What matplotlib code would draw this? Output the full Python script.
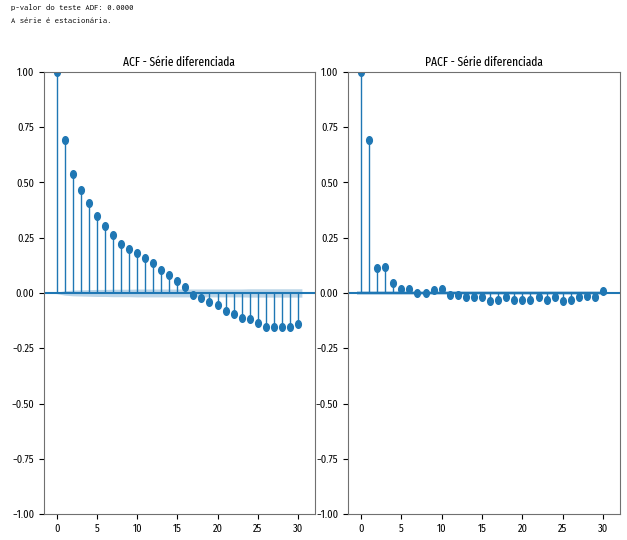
import matplotlib
matplotlib.use("Agg")
import matplotlib.pyplot as plt
from matplotlib.markers import MarkerStyle
from matplotlib.transforms import Affine2D
import numpy as np

# valores
lags = list(range(31))
acf_vals = [1.0, 0.693, 0.538, 0.467, 0.405, 0.350, 0.305, 0.261, 0.223, 0.199,
            0.181, 0.156, 0.135, 0.105, 0.080, 0.053, 0.026, -0.008, -0.022, -0.041,
            -0.056, -0.080, -0.094, -0.112, -0.116, -0.135, -0.153, -0.155, -0.155,
            -0.155, -0.139]
acf_band = [0.0, 0.010, 0.013, 0.014, 0.015, 0.016, 0.016, 0.017, 0.017, 0.017,
            0.018, 0.018, 0.018, 0.018, 0.018, 0.018, 0.018, 0.018, 0.018, 0.018,
            0.018, 0.018, 0.018, 0.018, 0.019, 0.019, 0.019, 0.019, 0.019, 0.019,
            0.019]
pacf_vals = [1.0, 0.690, 0.113, 0.118, 0.045, 0.018, 0.020, -0.002, -0.002, 0.013,
             0.020, -0.008, -0.010, -0.020, -0.020, -0.020, -0.035, -0.032, -0.018,
             -0.032, -0.032, -0.032, -0.020, -0.032, -0.018, -0.036, -0.030, -0.018,
             -0.013, -0.020, 0.008]
pacf_band = 0.010

adf_texto = ["p-valor do teste ADF: 0.0000", "A série é estacionária."]
titulos = ["ACF - Série diferenciada", "PACF - Série diferenciada"]

plt.rcParams['font.family'] = ['Fira Sans Condensed', 'DejaVu Sans']
plt.rcParams['font.size'] = 7.5

fig = plt.figure(figsize=(6.27, 5.4), dpi=100)
ax1 = fig.add_axes([0.070, 0.048, 0.432, 0.819])
ax2 = fig.add_axes([0.555, 0.048, 0.434, 0.819])

fig.text(0.018, 0.992, adf_texto[0], family=['Inconsolata', 'DejaVu Sans Mono'],
         fontsize=6.2, va='top', ha='left')
fig.text(0.018, 0.968, adf_texto[1], family=['Inconsolata', 'DejaVu Sans Mono'],
         fontsize=6.2, va='top', ha='left')

marca = MarkerStyle('o', transform=Affine2D().scale(0.75, 1.0))


def desenha(ax, vals, band, titulo):
    x = np.array(lags, dtype=float)
    ax.vlines(x, 0, vals, color='C0', lw=1)
    ax.plot(x, vals, ls='none', marker=marca, ms=5.5, color='C0')
    ax.axhline(0, color='C0', lw=1.5)
    xb = x.copy()
    xb[0] -= 0.5
    xb[-1] += 0.5
    b = np.asarray(band) * np.ones_like(x)
    ax.fill_between(xb, -b, b, alpha=0.3, color='C0', lw=0)
    ax.set_ylim(-1, 1)
    ax.set_xlim(-1.6, 32.1)
    ax.set_yticks(np.arange(-1, 1.01, 0.25))
    ax.set_xticks(range(0, 31, 5))
    ax.set_title(titulo, fontsize=9, pad=4,
                 family=['Fira Sans Extra Condensed', 'Fira Sans Condensed', 'DejaVu Sans'])
    for s in ax.spines.values():
        s.set_color('#707070')


desenha(ax1, acf_vals, acf_band, titulos[0])
desenha(ax2, pacf_vals, pacf_band, titulos[1])

fig.savefig("out.png", dpi=100)
